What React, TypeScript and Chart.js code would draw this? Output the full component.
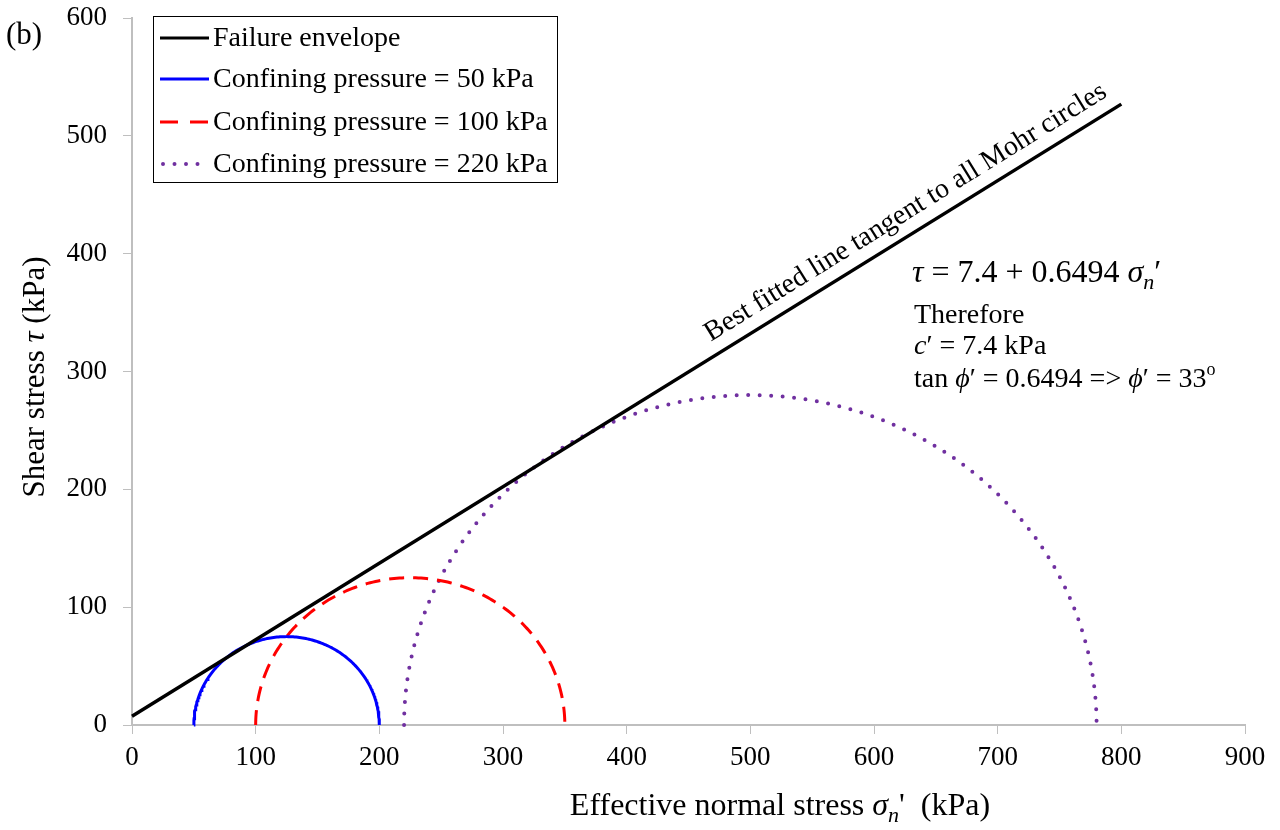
import React, { useEffect, useRef } from "react";
import { Chart, registerables } from "chart.js";

Chart.register(...registerables);

// Data
const CONFINING_PRESSURES = [50, 100, 220]; // sigma3' (kPa)
const MAJOR_STRESSES = [200, 350, 780]; // sigma1' at failure (kPa)
const CIRCLE_LABELS = [
  "Confining pressure = 50 kPa",
  "Confining pressure = 100 kPa",
  "Confining pressure = 220 kPa",
];
const ENVELOPE_X = [0, 800];
const ENVELOPE_Y = [7.4, 526.9];
const X_MIN = 0, X_MAX = 900, X_STEP = 100;
const Y_MIN = 0, Y_MAX = 600, Y_STEP = 100;

const FONT = '"Liberation Serif", "Times New Roman", serif';

function mohrCircle(s3: number, s1: number) {
  const c = (s1 + s3) / 2;
  const r = (s1 - s3) / 2;
  const pts: { x: number; y: number }[] = [];
  for (let i = 0; i <= 180; i++) {
    const t = (Math.PI * i) / 180;
    pts.push({ x: c - r * Math.cos(t), y: r * Math.sin(t) });
  }
  return pts;
}

type Seg = { t: string; italic?: boolean; size?: number; dy?: number };

function richWidth(ctx: CanvasRenderingContext2D, segs: Seg[], base: number) {
  let w = 0;
  for (const s of segs) {
    ctx.font = `${s.italic ? "italic " : ""}${s.size || base}px ${FONT}`;
    w += ctx.measureText(s.t).width;
  }
  return w;
}

function drawRich(ctx: CanvasRenderingContext2D, x: number, y: number, segs: Seg[], base: number) {
  let cx = x;
  for (const s of segs) {
    ctx.font = `${s.italic ? "italic " : ""}${s.size || base}px ${FONT}`;
    ctx.fillText(s.t, cx, y + (s.dy || 0));
    cx += ctx.measureText(s.t).width;
  }
}

const styles = [
  { color: "#0000ff", dash: [] as number[], width: 3, cap: "butt" },
  { color: "#ff0000", dash: [15, 9], width: 3, cap: "butt" },
  { color: "#7030a0", dash: [0, 11.5], width: 4, cap: "round" },
];

const decorPlugin = {
  id: "decor",
  afterDatasetsDraw(chart: any) {
    const ctx: CanvasRenderingContext2D = chart.ctx;
    const xs = chart.scales.x;
    const ys = chart.scales.y;
    ctx.save();
    ctx.fillStyle = "#000";
    ctx.textBaseline = "alphabetic";
    ctx.textAlign = "left";

    // panel label
    drawRich(ctx, 6, 44, [{ t: "(b)" }], 31);

    // annotation along the envelope
    const p0x = xs.getPixelForValue(ENVELOPE_X[0]);
    const p0y = ys.getPixelForValue(ENVELOPE_Y[0]);
    const p1x = xs.getPixelForValue(ENVELOPE_X[1]);
    const p1y = ys.getPixelForValue(ENVELOPE_Y[1]);
    const ang = Math.atan2(p1y - p0y, p1x - p0x);
    const sx = xs.getPixelForValue(474);
    const sy = p0y + ((sx - p0x) * (p1y - p0y)) / (p1x - p0x);
    ctx.save();
    ctx.translate(sx, sy);
    ctx.rotate(ang);
    ctx.font = `28px ${FONT}`;
    ctx.fillText("Best fitted line tangent to all Mohr circles", 0, -14);
    ctx.restore();

    // equation block
    drawRich(ctx, 912, 282, [
      { t: "τ", italic: true },
      { t: " = 7.4 + 0.6494 " },
      { t: "σ", italic: true },
      { t: "n", italic: true, size: 22, dy: 7 },
      { t: "′" },
    ], 32);
    drawRich(ctx, 914, 323, [{ t: "Therefore" }], 28);
    drawRich(ctx, 914, 354, [{ t: "c", italic: true }, { t: "′ = 7.4 kPa" }], 28);
    drawRich(ctx, 914, 387, [
      { t: "tan " },
      { t: "ϕ", italic: true },
      { t: "′ = 0.6494 => " },
      { t: "ϕ", italic: true },
      { t: "′ = 33" },
      { t: "o", size: 18, dy: -12 },
    ], 28);

    // axis titles
    const xt: Seg[] = [
      { t: "Effective normal stress " },
      { t: "σ", italic: true },
      { t: "n", italic: true, size: 22, dy: 7 },
      { t: "'  (kPa)" },
    ];
    const xw = richWidth(ctx, xt, 32);
    drawRich(ctx, 780 - xw / 2, 815, xt, 32);

    const yt: Seg[] = [{ t: "Shear stress " }, { t: "τ", italic: true }, { t: " (kPa)" }];
    const yw = richWidth(ctx, yt, 31);
    ctx.save();
    ctx.translate(44, 377);
    ctx.rotate(-Math.PI / 2);
    drawRich(ctx, -yw / 2, 0, yt, 31);
    ctx.restore();

    // legend
    const bx = 153, by = 16, bw = 404, bh = 166;
    ctx.fillStyle = "#fff";
    ctx.fillRect(bx, by, bw, bh);
    ctx.strokeStyle = "#000";
    ctx.lineWidth = 1;
    ctx.strokeRect(bx + 0.5, by + 0.5, bw, bh);
    const items = [
      { label: "Failure envelope", color: "#000", dash: [] as number[], width: 3, cap: "butt" },
      ...CIRCLE_LABELS.map((l, i) => ({ label: l, ...styles[i] })),
    ];
    const rowsY = [38, 79, 122, 164];
    items.forEach((it, i) => {
      const yy = rowsY[i];
      ctx.save();
      ctx.strokeStyle = it.color;
      ctx.lineWidth = it.width;
      ctx.lineCap = it.cap as CanvasLineCap;
      ctx.setLineDash(it.dash);
      ctx.beginPath();
      if (it.cap === "round") {
        ctx.moveTo(163, yy);
        ctx.lineTo(208, yy);
      } else if (it.dash.length) {
        ctx.setLineDash([18, 12]);
        ctx.moveTo(160, yy);
        ctx.lineTo(208, yy);
      } else {
        ctx.moveTo(160, yy);
        ctx.lineTo(209, yy);
      }
      ctx.stroke();
      ctx.restore();
      ctx.fillStyle = "#000";
      ctx.textBaseline = "middle";
      ctx.font = `28px ${FONT}`;
      ctx.fillText(it.label, 213, yy + 1);
    });
    ctx.restore();
  },
};

export default function App() {
  const ref = useRef<HTMLCanvasElement | null>(null);
  useEffect(() => {
    if (!ref.current) return;
    const datasets: any[] = [
      {
        label: "Failure envelope",
        data: ENVELOPE_X.map((x, i) => ({ x, y: ENVELOPE_Y[i] })),
        borderColor: "#000",
        borderWidth: 3.5,
        pointRadius: 0,
        showLine: true,
        fill: false,
        clip: false,
      },
      ...CONFINING_PRESSURES.map((s3, i) => ({
        label: CIRCLE_LABELS[i],
        data: mohrCircle(s3, MAJOR_STRESSES[i]),
        borderColor: styles[i].color,
        borderWidth: styles[i].width,
        borderDash: styles[i].dash,
        borderCapStyle: styles[i].cap,
        pointRadius: 0,
        showLine: true,
        fill: false,
        tension: 0,
        clip: false,
      })),
    ];
    const chart = new Chart(ref.current, {
      type: "scatter",
      data: { datasets },
      options: {
        animation: false,
        responsive: false,
        devicePixelRatio: 1,
        layout: { padding: { top: 18, right: 35, left: 0, bottom: 0 } },
        plugins: { legend: { display: false }, tooltip: { enabled: false } },
        scales: {
          x: {
            type: "linear",
            min: X_MIN,
            max: X_MAX,
            ticks: { stepSize: X_STEP, color: "#000", font: { family: FONT, size: 27 }, padding: 8, maxRotation: 0 },
            grid: { drawOnChartArea: false, drawTicks: true, tickLength: 9, color: "#bfbfbf", lineWidth: 1 },
            border: { display: true, color: "#bfbfbf", width: 2 },
            afterFit: (s: any) => {
              s.height = 105;
              s.paddingLeft = 0; s.paddingRight = 0; s.paddingTop = 0; s.paddingBottom = 0;
            },
          },
          y: {
            type: "linear",
            min: Y_MIN,
            max: Y_MAX,
            ticks: { stepSize: Y_STEP, color: "#000", font: { family: FONT, size: 27 }, padding: 16 },
            grid: { drawOnChartArea: false, drawTicks: true, tickLength: 9, color: "#bfbfbf", lineWidth: 1 },
            border: { display: true, color: "#bfbfbf", width: 2 },
            afterFit: (s: any) => {
              s.width = 132;
              s.paddingLeft = 0; s.paddingRight = 0; s.paddingTop = 0; s.paddingBottom = 0;
            },
          },
        },
      },
      plugins: [decorPlugin],
    });
    return () => chart.destroy();
  }, []);
  return (
    <div style={{ position: "fixed", left: 0, top: 0, width: 1280, height: 830, background: "#fff" }}>
      <canvas ref={ref} width={1280} height={830} style={{ width: 1280, height: 830 }} />
    </div>
  );
}
